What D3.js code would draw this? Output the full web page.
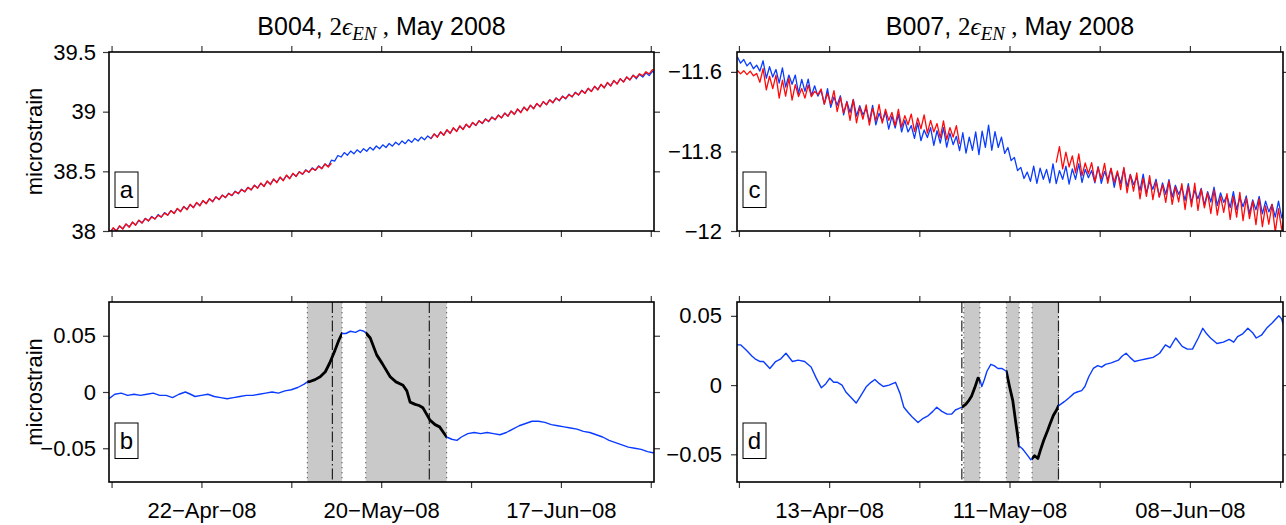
<!DOCTYPE html>
<html lang="en">
<head>
<meta charset="utf-8">
<style>
  body { margin: 0; background: #fff; }
  .frame { fill: none; stroke: #000; stroke-width: 1.6px; }
</style>
</head>
<body>
<svg width="1286" height="525"></svg>
<script src="https://d3js.org/d3.v7.min.js"></script>
<script>
// ---------- data ----------
var titles = ["B004", "B007"];

// 12-hourly samples, first sample at these times
var startA = Date.UTC(2008, 3, 7, 18),
    startC = Date.UTC(2008, 2, 29, 18),
    stepMs = 12 * 36e5;

// panel a: B004 strain, blue and red
var aBlue = [37.986,38.024, 38.002,38.040, 38.019,38.057, 38.035,38.073, 38.051,38.089,
 38.068,38.106, 38.084,38.122, 38.100,38.138, 38.116,38.154, 38.133,38.171,
 38.149,38.187, 38.165,38.203, 38.182,38.220, 38.198,38.236, 38.214,38.252,
 38.231,38.269, 38.247,38.285, 38.263,38.301, 38.279,38.317, 38.296,38.334,
 38.312,38.350, 38.328,38.366, 38.345,38.383, 38.361,38.399, 38.377,38.415,
 38.394,38.432, 38.410,38.448, 38.426,38.464, 38.442,38.480, 38.459,38.497,
 38.475,38.513, 38.491,38.529, 38.508,38.546, 38.524,38.562, 38.540,38.593,
 38.585,38.633, 38.620,38.657, 38.635,38.670, 38.647,38.680, 38.657,38.690,
 38.668,38.701, 38.679,38.712, 38.689,38.722, 38.700,38.733, 38.711,38.744,
 38.722,38.755, 38.732,38.765, 38.743,38.776, 38.754,38.787, 38.764,38.797,
 38.775,38.812, 38.789,38.829, 38.805,38.845, 38.821,38.861, 38.837,38.877,
 38.853,38.893, 38.868,38.908, 38.884,38.924, 38.900,38.940, 38.916,38.956,
 38.932,38.972, 38.948,38.988, 38.964,39.004, 38.980,39.020, 38.996,39.036,
 39.012,39.052, 39.027,39.067, 39.043,39.083, 39.059,39.099, 39.075,39.115,
 39.091,39.131, 39.107,39.147, 39.123,39.163, 39.139,39.179, 39.155,39.195,
 39.171,39.211, 39.186,39.226, 39.202,39.242, 39.218,39.258, 39.234,39.274,
 39.250,39.290, 39.266,39.306, 39.276,39.312, 39.290,39.326, 39.302,39.338,
 39.318];

var aRed = [37.982,38.027, 37.999,38.044, 38.016,38.060, 38.031,38.075, 38.048,38.091,
 38.066,38.104, 38.085,38.117, 38.102,38.131, 38.118,38.150, 38.132,38.170,
 38.146,38.190, 38.161,38.206, 38.177,38.224, 38.194,38.240, 38.210,38.256,
 38.228,38.272, 38.245,38.287, 38.263,38.300, 38.282,38.313, 38.299,38.330,
 38.315,38.347, 38.329,38.365, 38.344,38.384, 38.358,38.402, 38.372,38.420,
 38.388,38.437, 38.404,38.453, 38.421,38.469, 38.438,38.484, 38.457,38.496,
 38.476,38.509, 38.493,38.524, 38.509,38.542, 38.522,38.561, 38.536,38.568,
 null,null,null,null,null,null,null,null,null,null,
 null,null,null,null,null,null,null,null,null,null,
 null,null,null,null,null,null,null,null,null,null,
 38.772,38.814, 38.786,38.832, 38.801,38.849, 38.817,38.866, 38.833,38.882,
 38.850,38.896, 38.867,38.910, 38.885,38.923, 38.903,38.937, 38.920,38.952,
 38.934,38.970, 38.948,38.988, 38.961,39.006, 38.976,39.023, 38.991,39.039,
 39.008,39.055, 39.024,39.070, 39.040,39.085, 39.057,39.099, 39.075,39.113,
 39.094,39.127, 39.111,39.142, 39.126,39.159, 39.140,39.177, 39.153,39.196,
 39.168,39.213, 39.182,39.230, 39.198,39.246, 39.214,39.262, 39.231,39.277,
 39.248,39.291, 39.266,39.304, 39.284,39.318, 39.301,39.335, 39.316,39.352,
 39.338];

// panel c: B007 strain, blue and red
var cBlue = [-11.562,-11.578, -11.569,-11.585, -11.576,-11.592, -11.583,-11.598, -11.572,-11.616,
 -11.587,-11.613, -11.594,-11.628, -11.590,-11.638, -11.608,-11.631, -11.608,-11.654,
 -11.619,-11.649, -11.618,-11.660, -11.635,-11.661, -11.646,-11.681, -11.642,-11.689,
 -11.663,-11.684, -11.660,-11.708, -11.674,-11.702, -11.669,-11.711, -11.685,-11.708,
 -11.692,-11.725, -11.684,-11.733, -11.704,-11.725, -11.701,-11.744, -11.711,-11.741,
 -11.707,-11.751, -11.722,-11.751, -11.735,-11.767, -11.728,-11.773, -11.746,-11.765,
 -11.740,-11.785, -11.748,-11.779, -11.740,-11.789, -11.754,-11.783, -11.762,-11.798,
 -11.753,-11.804, -11.764,-11.797, -11.751,-11.808, -11.749,-11.790, -11.734,-11.797,
 -11.750,-11.790, -11.764,-11.805, -11.790,-11.823, -11.815,-11.848, -11.840,-11.868,
 -11.852,-11.875, -11.837,-11.880, -11.842,-11.870, -11.845,-11.879, -11.831,-11.881,
 -11.848,-11.870, -11.837,-11.882, -11.844,-11.870, -11.831,-11.878, -11.845,-11.866,
 -11.848,-11.879, -11.838,-11.880, -11.850,-11.872, -11.843,-11.890, -11.853,-11.880,
 -11.843,-11.889, -11.858,-11.883, -11.866,-11.898, -11.857,-11.905, -11.876,-11.895,
 -11.870,-11.914, -11.879,-11.908, -11.871,-11.915, -11.885,-11.908, -11.891,-11.923,
 -11.881,-11.928, -11.898,-11.919, -11.893,-11.935, -11.901,-11.927, -11.890,-11.936,
 -11.904,-11.928, -11.911,-11.941, -11.901,-11.946, -11.916,-11.939, -11.912,-11.956,
 -11.922,-11.947, -11.913,-11.957, -11.925,-11.952, -11.933,-11.965, -11.925,-11.967,
 -11.940];

var cRed = [-11.596,-11.605, -11.597,-11.607, -11.598,-11.610, -11.604,-11.626, -11.592,-11.645,
 -11.611,-11.642, -11.608,-11.666, -11.621,-11.661, -11.616,-11.671, -11.632,-11.662,
 -11.642,-11.666, -11.633,-11.662, -11.649,-11.657, -11.643,-11.681, -11.654,-11.681,
 -11.647,-11.700, -11.664,-11.703, -11.676,-11.722, -11.670,-11.728, -11.689,-11.719,
 -11.683,-11.734, -11.691,-11.723, -11.682,-11.729, -11.694,-11.722, -11.702,-11.735,
 -11.694,-11.739, -11.710,-11.733, -11.706,-11.750, -11.716,-11.743, -11.708,-11.754,
 -11.722,-11.751, -11.730,-11.766, -11.723,-11.770, -11.740,-11.764, -11.735,-11.781,
 null,null,null,null,null,null,null,null,null,null,
 null,null,null,null,null,null,null,null,null,null,
 null,null,null,null,null,null,null,null,null,
 -11.828,
 -11.788,-11.844, -11.802,-11.839, -11.811,-11.854, -11.806,-11.861, -11.829,-11.856,
 -11.828,-11.876, -11.840,-11.869, -11.830,-11.880, -11.842,-11.878, -11.849,-11.896,
 -11.840,-11.904, -11.858,-11.900, -11.854,-11.919, -11.867,-11.913, -11.861,-11.921,
 -11.876,-11.915, -11.884,-11.928, -11.875,-11.933, -11.889,-11.927, -11.881,-11.946,
 -11.888,-11.939, -11.880,-11.948, -11.895,-11.942, -11.904,-11.956, -11.897,-11.960,
 -11.913,-11.953, -11.906,-11.971, -11.913,-11.965, -11.903,-11.974, -11.917,-11.969,
 -11.925,-11.984, -11.919,-11.989, -11.937,-11.983, -11.933,-12.003, -11.944,-11.997,
 -11.960];

// panel b: B004 residual, days after 8 Apr 2008
var refB = Date.UTC(2008, 3, 8);
var bDays = [-0.4,0.5,1.5,2.5,3.5,4.5,5.5,6.5,7.5,8.5,9.5,10.5,11.5,12.3,13,14,15,16,17,18,19,20,21,22,23,24,25,26,27,28,29,30,
 30.5,31,31.7,32.5,33.3,34,34.8,35.4,35.9,36.5,37.2,38,38.7,39.3,39.7,40.3,41.3,42.2,43.4,44.3,45.4,46,46.5,47.3,47.9,48.5,
 49.6,50.4,51.1,51.7,52.2,53,53.8,54.5,55.5,56.5,57.5,58.5,59.5,60.5,61.5,62.5,63.5,64.5,65.5,66.5,67.5,68.5,69.5,70.5,
 71.5,72.5,73.5,74.5,75.5,76.5,77.5,78.5,79.5,80.5,81.5,82.5,83.5,84.3,84.8];
var bVals = [-0.006,-0.002,-0.001,-0.003,-0.002,-0.003,-0.002,-0.001,-0.003,-0.003,-0.005,-0.002,0.000,-0.002,-0.004,-0.003,
 -0.002,-0.004,-0.005,-0.006,-0.005,-0.004,-0.003,-0.003,-0.002,-0.001,0.000,-0.001,0.001,0.002,0.004,0.007,
 0.009,0.0095,0.011,0.0135,0.018,0.026,0.037,0.046,0.052,0.052,0.054,0.053,0.055,0.054,0.052,0.048,0.033,0.025,0.0135,
 0.009,0.006,0.001,-0.009,-0.011,-0.012,-0.014,-0.025,-0.029,-0.031,-0.036,-0.040,-0.042,-0.043,-0.040,-0.037,-0.036,
 -0.037,-0.036,-0.037,-0.038,-0.036,-0.033,-0.030,-0.028,-0.026,-0.026,-0.027,-0.029,-0.030,-0.031,-0.032,-0.033,
 -0.035,-0.036,-0.038,-0.040,-0.043,-0.045,-0.047,-0.049,-0.050,-0.051,-0.053,-0.054,-0.053];
var shadeB = [[30.5, 35.9], [39.6, 52.2]];
var thickB = [[30.5, 35.9], [39.6, 52.2]];
var dashDotB = [34.4, 49.5];

// panel d: B007 residual, days after 30 Mar 2008
var refD = Date.UTC(2008, 2, 30);
var dDays = [-0.4,0.3,1.2,2,2.5,3.3,3.8,4.8,5.7,6.5,7.3,8.3,9.2,10.2,11.2,12,12.8,13.5,14.1,14.7,15.3,16,16.6,17.4,18.2,19,
 19.8,20.5,21.1,21.8,22.4,23.3,24.3,25,25.6,26.3,26.9,27.8,28.6,29.4,30.1,30.7,31.5,32.3,33,33.6,34.1,34.6,35.2,35.7,
 36.1,36.6,37.1,37.4,37.7,38.1,38.5,39.1,39.6,40.2,40.8,41.5,42,42.5,43,43.5,44,44.5,45,45.3,45.9,46.4,46.8,47.3,47.9,
 48.3,48.8,49.3,49.6,50.5,51.3,52,52.5,53.2,53.7,54.3,55,55.7,56.3,56.9,57.8,58.9,59.5,60.1,60.7,61.4,62.3,63.3,64.3,
 65.3,66.2,66.9,67.8,68.8,69.6,70.4,71.3,72,72.6,73.2,74.2,75.2,76.1,76.8,77.4,78.2,79,79.7,80.3,81.1,81.9,82.8,83.8,
 84.2,84.5];
var dVals = [0.029,0.029,0.025,0.021,0.019,0.017,0.017,0.012,0.017,0.019,0.023,0.017,0.018,0.017,0.013,0.005,-0.002,0.001,
 0.005,0.002,0.002,0.000,-0.005,-0.009,-0.013,-0.007,-0.001,0.002,0.004,0.001,-0.001,0.000,0.002,-0.006,-0.016,-0.020,
 -0.023,-0.027,-0.024,-0.022,-0.019,-0.016,-0.019,-0.021,-0.021,-0.018,-0.017,-0.016,-0.014,-0.011,-0.008,-0.002,0.005,
 0.004,-0.001,0.004,0.010,0.015,0.014,0.012,0.012,0.010,-0.001,-0.011,-0.028,-0.044,-0.046,-0.049,-0.052,-0.054,-0.051,
 -0.053,-0.047,-0.040,-0.033,-0.028,-0.022,-0.018,-0.015,-0.012,-0.009,-0.006,-0.005,-0.004,-0.001,0.006,0.012,0.014,
 0.013,0.015,0.016,0.018,0.021,0.023,0.020,0.017,0.018,0.019,0.020,0.023,0.029,0.027,0.034,0.028,0.026,0.026,0.034,
 0.041,0.037,0.034,0.030,0.031,0.033,0.031,0.035,0.037,0.041,0.038,0.034,0.036,0.041,0.045,0.050,0.048,0.044];
var shadeD = [[34.9, 37.4], [41.5, 43.5], [45.5, 49.6]];
var thickD = [[34.6, 37.4], [41.5, 43.5], [45.5, 49.6]];
var dashDotD = [34.6, 49.6];

// axis ticks
var leftTicks = ["2008-04-08","2008-04-22","2008-05-06","2008-05-20","2008-06-03","2008-06-17","2008-07-01"];
var leftTickLabels = ["", "22\u2212Apr\u221208", "", "20\u2212May\u221208", "", "17\u2212Jun\u221208", ""];
var rightTicks = ["2008-03-30","2008-04-13","2008-04-27","2008-05-11","2008-05-25","2008-06-08","2008-06-22"];
var rightTickLabels = ["", "13\u2212Apr\u221208", "", "11\u2212May\u221208", "", "08\u2212Jun\u221208", ""];
var aTicks = [38, 38.5, 39, 39.5], aTickLabels = ["38", "38.5", "39", "39.5"];
var cTicks = [-12, -11.8, -11.6], cTickLabels = ["\u221212", "\u221211.8", "\u221211.6"];
var resTicks = [-0.05, 0, 0.05], resTickLabels = ["\u22120.05", "0", "0.05"];

// ---------- drawing ----------
var svg = d3.select("svg");
var sans = "'Liberation Sans', Arial, Helvetica, sans-serif",
    serif = "'Liberation Serif', 'DejaVu Serif', serif";
var blue = "#0a3cff", red = "#ff0a0a";

var leftX = [109, 654], rightX = [737, 1283];
var topY = [52, 231], botY = [302, 482];
var leftDomain = [new Date(Date.UTC(2008, 3, 7, 14, 24)), new Date(Date.UTC(2008, 6, 1, 12))];
var rightDomain = [new Date(Date.UTC(2008, 2, 29, 16, 48)), new Date(Date.UTC(2008, 5, 22, 10, 48))];

function toDate(s) { return new Date(s + "T00:00:00Z"); }
function dayDate(ref, d) { return new Date(ref + d * 864e5); }
function sampled(start, vals) {
    return vals.map(function (v, i) { return {t: new Date(start + i * stepMs), v: v}; });
}
function byDay(ref, days, vals) {
    return days.map(function (d, i) { return {t: dayDate(ref, d), v: vals[i]}; });
}

function styleAxis(g) {
    g.attr("font-family", sans).attr("font-size", 22);
    g.select(".domain").remove();
    g.selectAll(".tick line").attr("stroke", "#3a3a3a").attr("stroke-width", 1.2);
    g.selectAll(".tick text").attr("fill", "#000");
}

function panel(o) {
    var x = d3.scaleUtc().domain(o.xDomain).range(o.xr);
    var y = d3.scaleLinear().domain(o.yDomain).range([o.yr[1], o.yr[0]]);
    var g = svg.append("g");
    var cid = "clip-" + o.id;
    svg.append("clipPath").attr("id", cid).append("rect")
        .attr("x", o.xr[0]).attr("y", o.yr[0])
        .attr("width", o.xr[1] - o.xr[0]).attr("height", o.yr[1] - o.yr[0]);
    var plot = g.append("g").attr("clip-path", "url(#" + cid + ")");

    var tickDates = o.xTicks.map(toDate);
    g.append("g").attr("transform", "translate(" + o.xr[0] + ",0)")
        .call(d3.axisLeft(y).tickValues(o.yTicks).tickSize(6).tickPadding(o.pad)
            .tickFormat(function (d, i) { return o.yLabels[i]; }))
        .call(styleAxis);
    g.append("g").attr("transform", "translate(" + o.xr[1] + ",0)")
        .call(d3.axisRight(y).tickValues(o.yTicks).tickSize(6).tickFormat(""))
        .call(styleAxis);
    g.append("g").attr("transform", "translate(0," + o.yr[0] + ")")
        .call(d3.axisTop(x).tickValues(tickDates).tickSize(6).tickFormat(""))
        .call(styleAxis);
    g.append("g").attr("transform", "translate(0," + o.yr[1] + ")")
        .call(d3.axisBottom(x).tickValues(tickDates).tickSize(6).tickPadding(14)
            .tickFormat(function (d, i) { return o.xLabels ? o.xLabels[i] : ""; }))
        .call(styleAxis);

    return {x: x, y: y, g: g, plot: plot, o: o};
}

function finish(p, letter) {
    var o = p.o;
    p.g.append("rect").attr("class", "frame")
        .attr("x", o.xr[0]).attr("y", o.yr[0])
        .attr("width", o.xr[1] - o.xr[0]).attr("height", o.yr[1] - o.yr[0]);
    var bx = o.xr[0] + 6, by = o.yr[1] - 59;
    p.g.append("rect").attr("x", bx).attr("y", by).attr("width", 23).attr("height", 35.5)
        .attr("fill", "#fff").attr("stroke", "#000").attr("stroke-width", 1);
    p.g.append("text").attr("x", bx + 11.5).attr("y", by + 26)
        .attr("text-anchor", "middle").attr("font-family", sans).attr("font-size", 24)
        .text(letter);
}

function drawLine(p, data, color, width) {
    var line = d3.line().defined(function (d) { return d.v != null; })
        .x(function (d) { return p.x(d.t); }).y(function (d) { return p.y(d.v); });
    return p.plot.append("path").datum(data).attr("d", line)
        .attr("fill", "none").attr("stroke", color).attr("stroke-width", width)
        .attr("stroke-linejoin", "round");
}

function shading(p, ref, shades, dashDots) {
    var x = p.x, y0 = p.o.yr[0], y1 = p.o.yr[1];
    p.plot.selectAll(null).data(shades).enter().append("rect")
        .attr("x", function (d) { return x(dayDate(ref, d[0])); })
        .attr("width", function (d) { return x(dayDate(ref, d[1])) - x(dayDate(ref, d[0])); })
        .attr("y", y0).attr("height", y1 - y0).attr("fill", "#c9c9c9");
    var edges = [];
    shades.forEach(function (s) { edges.push(s[0], s[1]); });
    p.plot.selectAll(null).data(edges).enter().append("line")
        .attr("x1", function (d) { return x(dayDate(ref, d)); })
        .attr("x2", function (d) { return x(dayDate(ref, d)); })
        .attr("y1", y0).attr("y2", y1)
        .attr("stroke", "#555").attr("stroke-width", 1).attr("stroke-dasharray", "1.3,3.7");
    p.plot.selectAll(null).data(dashDots).enter().append("line")
        .attr("x1", function (d) { return x(dayDate(ref, d)); })
        .attr("x2", function (d) { return x(dayDate(ref, d)); })
        .attr("y1", y0).attr("y2", y1)
        .attr("stroke", "#222").attr("stroke-width", 1.2).attr("stroke-dasharray", "11,3,1.5,3");
}

function thickSegments(p, ref, data, spans) {
    var cid = "thick-" + p.o.id;
    var cp = svg.append("clipPath").attr("id", cid);
    spans.forEach(function (s) {
        cp.append("rect").attr("x", p.x(dayDate(ref, s[0]))).attr("y", p.o.yr[0])
            .attr("width", p.x(dayDate(ref, s[1])) - p.x(dayDate(ref, s[0])))
            .attr("height", p.o.yr[1] - p.o.yr[0]);
    });
    drawLine(p, data, "#000", 2.8).attr("clip-path", "url(#" + cid + ")");
}

// panel a
var pa = panel({id: "a", xr: leftX, yr: topY, xDomain: leftDomain, yDomain: [38, 39.5],
    yTicks: aTicks, yLabels: aTickLabels, pad: 7, xTicks: leftTicks});
drawLine(pa, sampled(startA, aBlue), blue, 1.3);
drawLine(pa, sampled(startA, aRed), red, 1.3);
finish(pa, "a");

// panel c
var pc = panel({id: "c", xr: rightX, yr: topY, xDomain: rightDomain, yDomain: [-12, -11.55],
    yTicks: cTicks, yLabels: cTickLabels, pad: 9, xTicks: rightTicks});
drawLine(pc, sampled(startC, cBlue), blue, 1.3);
drawLine(pc, sampled(startC, cRed), red, 1.3);
finish(pc, "c");

// panel b
var pb = panel({id: "b", xr: leftX, yr: botY, xDomain: leftDomain, yDomain: [-0.08, 0.08],
    yTicks: resTicks, yLabels: resTickLabels, pad: 7, xTicks: leftTicks, xLabels: leftTickLabels});
shading(pb, refB, shadeB, dashDotB);
var bData = byDay(refB, bDays, bVals);
drawLine(pb, bData, blue, 1.4);
thickSegments(pb, refB, bData, thickB);
finish(pb, "b");

// panel d
var pd = panel({id: "d", xr: rightX, yr: botY, xDomain: rightDomain, yDomain: [-0.07, 0.06],
    yTicks: resTicks, yLabels: resTickLabels, pad: 9, xTicks: rightTicks, xLabels: rightTickLabels});
shading(pd, refD, shadeD, dashDotD);
var dData = byDay(refD, dDays, dVals);
drawLine(pd, dData, blue, 1.4);
thickSegments(pd, refD, dData, thickD);
finish(pd, "d");

// titles
[[leftX, titles[0]], [rightX, titles[1]]].forEach(function (t) {
    var cx = (t[0][0] + t[0][1]) / 2;
    var txt = svg.append("text").attr("x", cx).attr("y", 35).attr("text-anchor", "middle")
        .attr("font-family", sans).attr("font-size", 25);
    txt.append("tspan").text(t[1] + ", ");
    txt.append("tspan").attr("font-family", serif).text("2");
    txt.append("tspan").attr("font-family", serif).attr("font-style", "italic").text("\u03f5");
    txt.append("tspan").attr("font-family", serif).attr("font-style", "italic")
        .attr("font-size", 19).attr("dy", 5).text("EN");
    txt.append("tspan").attr("font-family", serif).attr("dy", -5).text(" ,");
    txt.append("tspan").text(" May 2008");
});

// y labels
[topY, botY].forEach(function (yr) {
    svg.append("text").attr("transform", "translate(42," + ((yr[0] + yr[1]) / 2) + ") rotate(-90)")
        .attr("text-anchor", "middle").attr("font-family", sans).attr("font-size", 22)
        .text("microstrain");
});
</script>
</body>
</html>
